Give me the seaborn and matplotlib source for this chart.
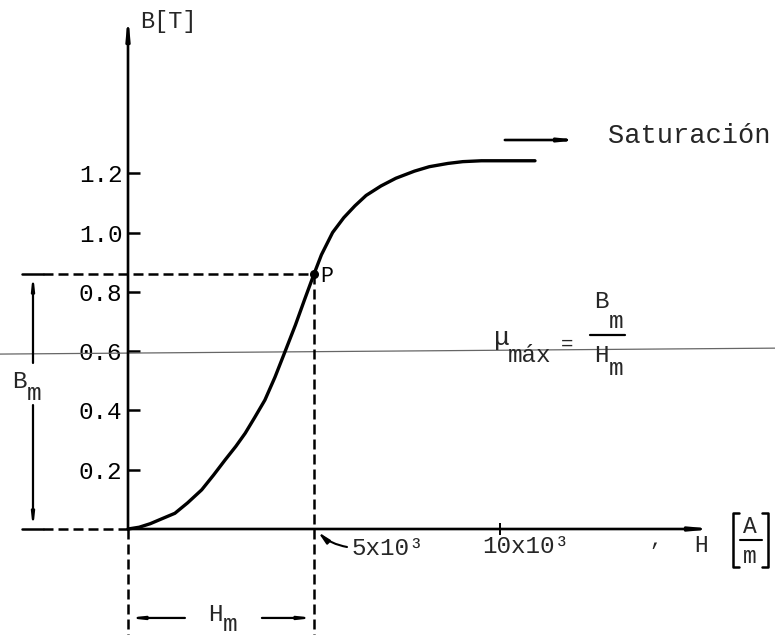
import matplotlib
matplotlib.use("Agg")
import matplotlib.pyplot as plt
import pandas as pd
import seaborn as sns

# Magnetization curve B(H); H in units of 10^3 A/m, B in tesla
H_curve = [0.0, 0.3, 0.6, 0.9, 1.26, 1.6, 1.98, 2.3, 2.61, 2.9, 3.15, 3.4,
           3.68, 3.95, 4.22, 4.5, 4.75, 5.0, 5.2, 5.5, 5.8, 6.1, 6.4, 6.8,
           7.2, 7.7, 8.1, 8.6, 9.0, 9.5, 10.94]
B_curve = [0.0, 0.006, 0.018, 0.034, 0.053, 0.088, 0.132, 0.182, 0.233, 0.279, 0.323, 0.375,
           0.435, 0.512, 0.598, 0.688, 0.775, 0.86, 0.925, 1.0, 1.05, 1.09, 1.125, 1.157,
           1.183, 1.207, 1.222, 1.233, 1.239, 1.242, 1.242]

# Point of maximum permeability P = (Hm, Bm)
H_m = 5.0
B_m = 0.86

# Axis ticks
B_ticks = [0.2, 0.4, 0.6, 0.8, 1.0, 1.2]
B_tick_labels = ["0.2", "0.4", "0.6", "0.8", "1.0", "1.2"]
H_ticks = [10]

sns.set_theme(style="white")
plt.rcParams["font.family"] = ["Liberation Mono", "DejaVu Sans"]

fig = plt.figure(figsize=(7.75, 6.35), dpi=100)
ax = fig.add_axes([0, 0, 1, 1])
ax.set_facecolor("white")
fig.patch.set_facecolor("white")

df = pd.DataFrame({"H": H_curve, "B": B_curve})
sns.lineplot(data=df, x="H", y="B", sort=False, color="black", linewidth=2.4,
             ax=ax, zorder=5)
ax.set_xlabel("")
ax.set_ylabel("")

X0, X1 = -3.441, 17.392
Y0, Y1 = -0.3575, 1.7842
ax.set_xlim(X0, X1)
ax.set_ylim(Y0, Y1)

# axes through the origin; ticks live on hidden spines
for side in ["left", "bottom"]:
    ax.spines[side].set_position(("data", 0))
for s in ax.spines.values():
    s.set_visible(False)

ax.set_yticks(B_ticks)
ax.set_yticklabels(B_tick_labels)
ax.tick_params(axis="y", direction="in", length=8.6, width=1.8, pad=4,
               labelsize=17.5, left=True, colors="black")
ax.set_xticks(H_ticks)
ax.set_xticklabels([""])
ax.tick_params(axis="x", direction="inout", length=8.6, width=1.4,
               bottom=True, colors="black")

K = "black"


def arrow(p_from, p_to, lw=1.8, hl=0.9, hw=0.15, rad=0.0):
    ax.annotate("", xy=p_to, xytext=p_from,
                arrowprops=dict(arrowstyle=f"-|>,head_length={hl},head_width={hw}",
                                color=K, lw=lw, shrinkA=0, shrinkB=0,
                                mutation_scale=10,
                                connectionstyle=f"arc3,rad={rad}"),
                zorder=4)


# axis lines with slim arrowheads
arrow((0, 0), (0, 1.737), lw=1.9, hl=1.1, hw=0.1)
arrow((0, 0), (15.78, 0), lw=1.9, hl=1.1, hw=0.1)

# faint horizontal rule across the page
ax.plot([X0, X1], [0.590, 0.610], color="#666666", lw=0.9, zorder=1)

# dashed construction lines through P
dash = (0, (4, 2))
ax.plot([-2.285, H_m], [B_m, B_m], color=K, lw=1.8, ls=dash, zorder=3)
ax.plot([-2.285, 0], [0, 0], color=K, lw=1.8, ls=dash, zorder=3)
ax.plot([0, 0], [0, Y0], color=K, lw=1.8, ls=dash, zorder=3)
ax.plot([H_m, H_m], [B_m, Y0], color=K, lw=1.8, ls=dash, zorder=3)

# point P
ax.plot([H_m], [B_m], marker="o", markersize=5.5, color=K, zorder=6)
ax.text(5.17, 0.833, "P", fontsize=15.5, color=K, ha="left", va="baseline")

# Bm dimension
ax.plot([-2.85, -2.285], [B_m, B_m], color=K, lw=1.8)
ax.plot([-2.85, -2.285], [0, 0], color=K, lw=1.8)
arrow((-2.554, 0.56), (-2.554, B_m), lw=1.6, hl=0.7, hw=0.08)
arrow((-2.554, 0.418), (-2.554, 0), lw=1.6, hl=0.7, hw=0.08)
ax.text(-2.93, 0.4756, "B", fontsize=17.5, ha="center", va="baseline")
ax.text(-2.527, 0.435, "m", fontsize=17.5, ha="center", va="baseline")

# Hm dimension
arrow((1.53, -0.300), (0, -0.300), lw=1.6, hl=0.7, hw=0.08)
arrow((3.60, -0.300), (H_m, -0.300), lw=1.6, hl=0.7, hw=0.08)
ax.text(2.339, -0.310, "H", fontsize=17.5, ha="center", va="baseline")
ax.text(2.742, -0.343, "m", fontsize=17.5, ha="center", va="baseline")

# H axis labels
arrow((5.887, -0.0607), (5.108, -0.0101), lw=1.5, hl=0.7, hw=0.15, rad=-0.15)
ax.text(6.02, -0.0877, "5x10³", fontsize=17.5, ha="left", va="baseline")
ax.text(9.516, -0.081, "10x10³", fontsize=17.5, ha="left", va="baseline")
ax.text(14.17, -0.054, ",", fontsize=15, ha="center", va="baseline")
ax.text(15.40, -0.0776, "H", fontsize=16.5, ha="center", va="baseline")

# unit [A/m]
ax.text(16.72, -0.0135, "A", fontsize=16.5, ha="center", va="baseline")
ax.text(16.72, -0.1147, "m", fontsize=16.5, ha="center", va="baseline")
ax.plot([16.45, 17.04], [-0.0371, -0.0371], color=K, lw=1.5)
ax.plot([16.43, 16.26, 16.26, 16.43], [0.054, 0.054, -0.128, -0.128], color=K, lw=1.8)
ax.plot([17.04, 17.20, 17.20, 17.04], [0.054, 0.054, -0.128, -0.128], color=K, lw=1.8)

# B axis label
ax.text(0.32, 1.69, "B[T]", fontsize=17, ha="left", va="baseline")

# saturation marker
arrow((10.13, 1.312), (12.15, 1.312), lw=1.9, hl=0.9, hw=0.09)
ax.text(12.90, 1.302, "Saturación", fontsize=19.5, ha="left", va="baseline")

# maximum permeability formula
ax.text(10.05, 0.620, "μ", fontsize=19, ha="center", va="baseline")
ax.text(10.22, 0.563, "máx", fontsize=17.5, ha="left", va="baseline")
ax.text(11.80, 0.604, "=", fontsize=15, ha="center", va="baseline")
ax.text(12.72, 0.745, "B", fontsize=17.5, ha="center", va="baseline")
ax.text(13.12, 0.678, "m", fontsize=17.5, ha="center", va="baseline")
ax.plot([12.42, 13.36], [0.654, 0.654], color=K, lw=1.6)
ax.text(12.72, 0.563, "H", fontsize=17.5, ha="center", va="baseline")
ax.text(13.12, 0.519, "m", fontsize=17.5, ha="center", va="baseline")

fig.savefig("out.png", dpi=100, facecolor="white")
